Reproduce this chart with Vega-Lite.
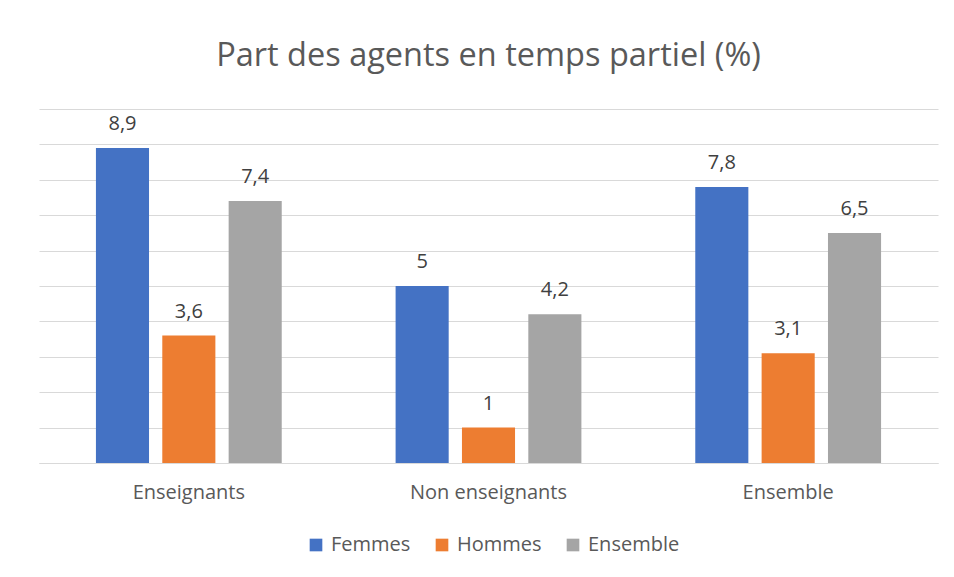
{
  "$schema": "https://vega.github.io/schema/vega-lite/v6.json",
  "width": 899,
  "height": 354,
  "autosize": {"type": "none"},
  "padding": {"left": 39, "top": 109, "right": 16, "bottom": 114},
  "background": "white",
  "title": {
    "text": "Part des agents en temps partiel (%)",
    "fontSize": 32.5,
    "font": "Open Sans",
    "fontWeight": "normal",
    "color": "#595959",
    "anchor": "middle",
    "offset": 37
  },
  "data": {
    "values": [
      {"groupe": "Enseignants", "serie": "Femmes", "valeur": 8.9},
      {"groupe": "Enseignants", "serie": "Hommes", "valeur": 3.6},
      {"groupe": "Enseignants", "serie": "Ensemble", "valeur": 7.4},
      {"groupe": "Non enseignants", "serie": "Femmes", "valeur": 5},
      {"groupe": "Non enseignants", "serie": "Hommes", "valeur": 1},
      {"groupe": "Non enseignants", "serie": "Ensemble", "valeur": 4.2},
      {"groupe": "Ensemble", "serie": "Femmes", "valeur": 7.8},
      {"groupe": "Ensemble", "serie": "Hommes", "valeur": 3.1},
      {"groupe": "Ensemble", "serie": "Ensemble", "valeur": 6.5}
    ]
  },
  "encoding": {
    "x": {
      "field": "groupe",
      "type": "nominal",
      "sort": ["Enseignants", "Non enseignants", "Ensemble"],
      "scale": {"paddingInner": 0.38, "paddingOuter": 0.19},
      "axis": {
        "title": null,
        "labelAngle": 0,
        "labelFontSize": 20,
        "labelFont": "Open Sans",
        "labelColor": "#595959",
        "labelPadding": 19,
        "ticks": false,
        "domainColor": "#d9d9d9",
        "domainWidth": 1
      }
    },
    "xOffset": {
      "field": "serie",
      "type": "nominal",
      "sort": ["Femmes", "Hommes", "Ensemble"],
      "scale": {"paddingInner": 0.2, "paddingOuter": 0}
    },
    "y": {
      "field": "valeur",
      "type": "quantitative",
      "scale": {"domain": [0, 10], "nice": false},
      "axis": {
        "title": null,
        "labels": false,
        "ticks": false,
        "domain": false,
        "tickCount": 10,
        "gridColor": "#d9d9d9",
        "gridWidth": 1
      }
    }
  },
  "layer": [
    {
      "mark": {"type": "bar"},
      "encoding": {
        "color": {
          "field": "serie",
          "type": "nominal",
          "sort": ["Femmes", "Hommes", "Ensemble"],
          "scale": {
            "domain": ["Femmes", "Hommes", "Ensemble"],
            "range": ["#4472c4", "#ed7d31", "#a5a5a5"]
          },
          "legend": {
            "title": null,
            "orient": "none",
            "direction": "horizontal",
            "legendX": 267,
            "legendY": 426,
            "symbolType": "square",
            "symbolSize": 160,
            "symbolStrokeWidth": 0,
            "labelFontSize": 20,
            "labelFont": "Open Sans",
            "labelColor": "#595959",
            "columnPadding": 21,
            "labelOffset": 5
          }
        }
      }
    },
    {
      "mark": {
        "type": "text",
        "baseline": "alphabetic",
        "dy": -18,
        "fontSize": 20,
        "font": "Open Sans",
        "color": "#404040"
      },
      "encoding": {
        "text": {"field": "valeur", "type": "quantitative", "format": ".2~f"}
      }
    }
  ],
  "config": {
    "view": {"stroke": null},
    "locale": {
      "number": {
        "decimal": ",",
        "thousands": " ",
        "grouping": [3],
        "currency": ["", " €"]
      }
    }
  }
}
